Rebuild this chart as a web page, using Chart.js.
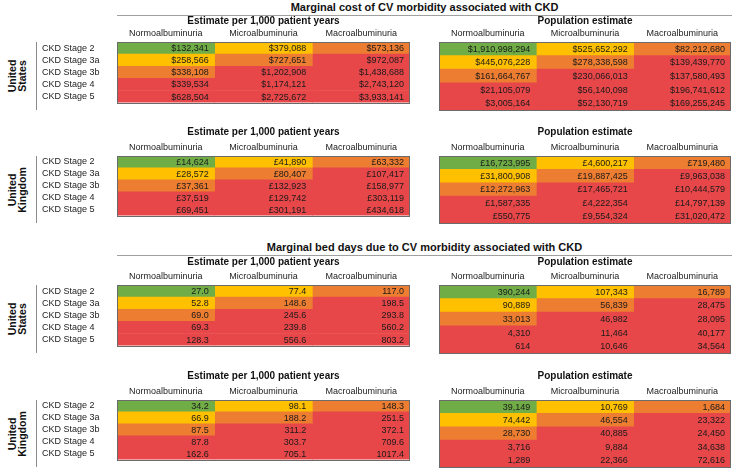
<!DOCTYPE html>
<html>
<head>
<meta charset="utf-8">
<script src="https://cdn.jsdelivr.net/npm/chart.js@4.4.1/dist/chart.umd.min.js"></script>
<style>
  body { margin: 0; background: #fff; }
  #wrap { position: relative; width: 732px; height: 468px; overflow: hidden; background: #fff; font-family: "Liberation Sans", Arial, sans-serif; color: #111; }
  #wrap canvas { position: absolute; }
  .main-title { position: absolute; left: 117px; width: 615px; text-align: center; font-weight: bold; font-size: 11px; line-height: 14px; }
  .rule { position: absolute; left: 117px; width: 615px; height: 1px; background: #a0a0a0; }
  .stage-rule { position: absolute; left: 36px; width: 1px; background: #8c8c8c; }
  .country { position: absolute; font-weight: bold; font-size: 10.5px; line-height: 10px; white-space: nowrap; transform: translate(-50%, -50%) rotate(-90deg); }
</style>
</head>
<body>
<div id="wrap">
  <div class="main-title" style="top:0px">Marginal cost of CV morbidity associated with CKD</div>
  <div class="rule" style="top:15px"></div>
  <div class="main-title" style="top:240px">Marginal bed days due to CV morbidity associated with CKD</div>
  <div class="rule" style="top:255px"></div>
</div>
<script>
// row / column labels
const stages = ["CKD Stage 2", "CKD Stage 3a", "CKD Stage 3b", "CKD Stage 4", "CKD Stage 5"];
const albuminuria = ["Normoalbuminuria", "Microalbuminuria", "Macroalbuminuria"];

// marginal cost, rows = stages, cols = albuminuria
const usCostPer1000 = [
  [132341, 379088, 573136],
  [258566, 727651, 972087],
  [338108, 1202908, 1438688],
  [339534, 1174121, 2743120],
  [628504, 2725672, 3933141]
];
const usCostPopulation = [
  [1910998294, 525652292, 82212680],
  [445076228, 278338598, 139439770],
  [161664767, 230066013, 137580493],
  [21105079, 56140098, 196741612],
  [3005164, 52130719, 169255245]
];
const ukCostPer1000 = [
  [14624, 41890, 63332],
  [28572, 80407, 107417],
  [37361, 132923, 158977],
  [37519, 129742, 303119],
  [69451, 301191, 434618]
];
const ukCostPopulation = [
  [16723995, 4600217, 719480],
  [31800908, 19887425, 9963038],
  [12272963, 17465721, 10444579],
  [1587335, 4222354, 14797139],
  [550775, 9554324, 31020472]
];

// marginal bed days
const usBedPer1000 = [
  [27.0, 77.4, 117.0],
  [52.8, 148.6, 198.5],
  [69.0, 245.6, 293.8],
  [69.3, 239.8, 560.2],
  [128.3, 556.6, 803.2]
];
const usBedPopulation = [
  [390244, 107343, 16789],
  [90889, 56839, 28475],
  [33013, 46982, 28095],
  [4310, 11464, 40177],
  [614, 10646, 34564]
];
const ukBedPer1000 = [
  [34.2, 98.1, 148.3],
  [66.9, 188.2, 251.5],
  [87.5, 311.2, 372.1],
  [87.8, 303.7, 709.6],
  [162.6, 705.1, 1017.4]
];
const ukBedPopulation = [
  [39149, 10769, 1684],
  [74442, 46554, 23322],
  [28730, 40885, 24450],
  [3716, 9884, 34638],
  [1289, 22366, 72616]
];

// green / yellow / orange / red by stage + albuminuria step
const riskColors = ["#70ad47", "#ffc000", "#ed7d31", "#e8474a"];
const FONT = '"Liberation Sans", Arial, sans-serif';
const wrap = document.getElementById("wrap");

const usd = v => "$" + v.toLocaleString("en-US");
const gbp = v => "£" + v.toLocaleString("en-US");
const oneDp = v => v.toFixed(1);
const count = v => v.toLocaleString("en-US");

// writes the numbers into the cells and draws the frame
const cellText = {
  id: "cellText",
  afterDatasetsDraw(chart) {
    const { ctx, chartArea: a } = chart;
    ctx.save();
    ctx.font = "9px " + FONT;
    ctx.fillStyle = "#1a1a1a";
    ctx.textAlign = "right";
    ctx.textBaseline = "middle";
    chart.data.datasets.forEach((ds, i) => {
      chart.getDatasetMeta(i).data.forEach((bar, j) => {
        ctx.fillText(ds.cellLabels[j], bar.x - 6, bar.y + 0.5);
      });
    });
    ctx.strokeStyle = "#6b6b6b";
    ctx.lineWidth = 1;
    ctx.strokeRect(Math.round(a.left) + 0.5, Math.round(a.top) + 0.5, Math.round(a.width) - 1, Math.round(a.height));
    ctx.restore();
  }
};

function makeTable(left, width, headTop, tableTop, tableH, title, rows, fmt, showStages) {
  const canvas = document.createElement("canvas");
  const top = headTop - 7;
  const height = tableTop - top + tableH + 1;
  canvas.width = width;
  canvas.height = height;
  canvas.style.left = left + "px";
  canvas.style.top = top + "px";
  canvas.style.width = width + "px";
  canvas.style.height = height + "px";
  wrap.appendChild(canvas);

  const datasets = albuminuria.map((name, c) => ({
    label: name,
    data: stages.map(() => 1),
    cellLabels: rows.map(r => fmt(r[c])),
    backgroundColor: stages.map((s, r) => riskColors[Math.min(r + c, 3)]),
    borderWidth: 0,
    barPercentage: 1,
    categoryPercentage: 1
  }));

  return new Chart(canvas, {
    type: "bar",
    data: { labels: stages, datasets },
    options: {
      indexAxis: "y",
      responsive: false,
      animation: false,
      layout: { autoPadding: false, padding: { left: showStages ? 4 : 0, right: 1, top: 0, bottom: 1 } },
      plugins: {
        legend: { display: false },
        tooltip: { enabled: false },
        title: {
          display: true,
          text: title,
          fullSize: false,
          color: "#111",
          font: { family: FONT, size: 10, weight: "bold", lineHeight: 1.2 },
          padding: { top: 1, bottom: 0 }
        }
      },
      scales: {
        x: {
          stacked: true,
          position: "top",
          min: 0,
          max: 3,
          grid: { display: false, drawTicks: false },
          border: { display: false },
          afterBuildTicks: axis => { axis.ticks = albuminuria.map((n, i) => ({ value: i + 0.5 })); },
          afterFit: s => { s.height = tableTop - headTop - 6; },
          ticks: {
            autoSkip: false,
            maxRotation: 0,
            padding: 3,
            color: "#222",
            font: { family: FONT, size: 9 },
            callback: (v, i) => albuminuria[i]
          }
        },
        y: {
          stacked: true,
          display: showStages,
          grid: { display: false, drawTicks: false },
          border: { display: false },
          afterFit: s => { s.width = showStages ? 75 : 0; },
          ticks: { autoSkip: false, crossAlign: "far", color: "#222", font: { family: FONT, size: 9 } }
        }
      }
    },
    plugins: [cellText]
  });
}

function countryLabel(lines, tableTop, tableH) {
  const mid = tableTop + tableH / 2;
  const d = document.createElement("div");
  d.className = "country";
  d.style.left = "17px";
  d.style.top = mid + "px";
  d.style.textAlign = "center";
  d.innerHTML = lines.join("<br>");
  wrap.appendChild(d);
  const r = document.createElement("div");
  r.className = "stage-rule";
  r.style.top = tableTop + "px";
  r.style.height = tableH + "px";
  wrap.appendChild(r);
}

const PER = "Estimate per 1,000 patient years";
const POP = "Population estimate";
const panels = [
  { head: 21, table: 42, h: 68, country: ["United", "States"], per: usCostPer1000, pop: usCostPopulation, fPer: usd, fPop: usd },
  { head: 132, table: 156, h: 67, country: ["United", "Kingdom"], per: ukCostPer1000, pop: ukCostPopulation, fPer: gbp, fPop: gbp },
  { head: 262, table: 285, h: 68, country: ["United", "States"], per: usBedPer1000, pop: usBedPopulation, fPer: oneDp, fPop: count },
  { head: 376, table: 400, h: 67, country: ["United", "Kingdom"], per: ukBedPer1000, pop: ukBedPopulation, fPer: oneDp, fPop: count }
];

panels.forEach(p => {
  makeTable(38, 373, p.head, p.table, p.h, PER, p.per, p.fPer, true);
  makeTable(439, 293, p.head, p.table, p.h, POP, p.pop, p.fPop, false);
  countryLabel(p.country, p.table, p.h);
});
</script>
</body>
</html>
